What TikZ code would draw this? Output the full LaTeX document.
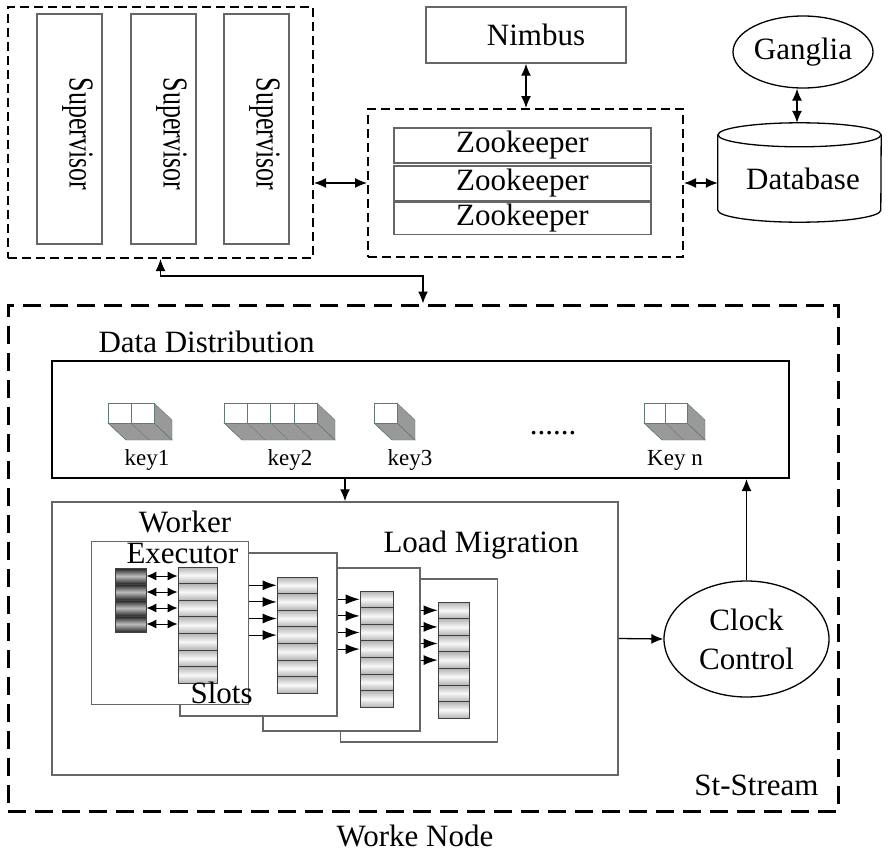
\documentclass[tikz,border=0pt]{standalone}
\usepackage{fontspec}
\setmainfont{Liberation Serif}
\usepackage{tikz}
\usetikzlibrary{arrows.meta, positioning, shapes.geometric}

\definecolor{boxgray}{gray}{0.4}
\definecolor{cubeline}{RGB}{95,125,110}
\definecolor{cubefill}{gray}{0.6}

\newcommand{\keyrow}[4]{%
  \draw[cubeline, fill=cubefill] (#2,#3+20) -- ++(#1*#4,0) -- ++(18,17) -- ++(-#1*#4,0) -- cycle;
  \draw[cubeline, fill=cubefill] (#2+#1*#4,#3) -- ++(18,17) -- ++(0,20) -- ++(-18,-17) -- cycle;
  \foreach \i in {0,...,#1} \draw[cubeline] (#2+\i*#4,#3+20) -- ++(18,17);
  \foreach \i in {1,...,#1} \draw[cubeline, fill=white] (#2+\i*#4-#4,#3) rectangle ++(#4,20);
}

\begin{document}
\begin{tikzpicture}[x=1pt, y=-1pt,
  font=\fontsize{31}{36}\selectfont,
  >={Latex[length=12pt, width=10pt]},
  link/.style={line width=1.3pt},
  slotlink/.style={line width=1pt},
  group/.style={draw, line width=2pt, dash pattern=on 9pt off 5pt, inner sep=0},
  supbox/.style={draw=boxgray, line width=1.2pt, rotate=-90, minimum width=230pt, minimum height=65pt, inner sep=0},
  zkbox/.style={draw=boxgray, line width=1.2pt, minimum width=257pt, inner sep=0},
  worker/.style={draw=boxgray, fill=white, line width=1.2pt, minimum width=157pt, minimum height=163pt},
  slotcell/.style={draw=black!75, line width=0.8pt, top color=gray!60, bottom color=gray!60, middle color=gray!5, minimum height=16.6pt, inner sep=0},
  darkcell/.style={draw=black!75, line width=0.8pt, top color=black!90, bottom color=black!85, middle color=gray!50, minimum width=31pt, minimum height=16pt, inner sep=0},
  keylabel/.style={font=\fontsize{23}{26}\selectfont, anchor=base}]

  \useasboundingbox (0,0) rectangle (889,859);

  \node[group, minimum width=305pt, minimum height=251pt] (supgroup) at (160.5,132.5) {};
  \foreach \n/\x in {1/69.5, 2/163.5, 3/256.5}
    \node[supbox] (sup\n) at (\x,129) {\raisebox{0pt}[0pt][0pt]{\hspace*{10pt}\scalebox{0.74}[1]{\fontsize{35}{36}\selectfont Supervisor}}};

  \node[group, minimum width=315pt, minimum height=148pt] (zoogroup) at (525.5,183) {};
  \node[zkbox, minimum height=35pt] (zk1) at (522.5,145.5) {Zookeeper};
  \node[zkbox, minimum height=35pt] (zk2) at (522.5,183.5) {Zookeeper};
  \node[zkbox, minimum height=32pt] (zk3) at (522.5,218.5) {Zookeeper};

  \node[draw=boxgray, line width=1.5pt, minimum width=200pt, minimum height=56pt] (nimbus) at (526,35) {\hspace*{20pt}Nimbus};
  \node[draw, ellipse, line width=1.3pt, minimum width=140pt, minimum height=72pt, inner sep=0] (ganglia) at (803,52) {Ganglia};

  \node[minimum width=163pt, minimum height=99pt, inner sep=0] (db) at (799.5,172.5) {};
  \draw[line width=1.3pt] ([yshift=-12pt]db.north west) -- ([yshift=12pt]db.south west)
    arc[start angle=180, end angle=0, x radius=81.5, y radius=12] -- ([yshift=-12pt]db.north east);
  \draw[line width=1.3pt] ([yshift=-12pt]db.north) ellipse[x radius=81.5, y radius=12];
  \node[anchor=base] (dbtext) at (803,189) {Database};

  \node[draw, line width=3pt, dash pattern=on 18pt off 9pt, minimum width=830pt, minimum height=506pt, inner sep=0] (stream) at (423,558) {};
  \node[draw, line width=2pt, minimum width=737pt, minimum height=117pt] (dd) at (420.5,419.5) {};
  \node[draw=boxgray, line width=1.5pt, minimum width=566pt, minimum height=273pt] (lm) at (335,638.5) {};
  \node[draw, ellipse, line width=1.3pt, minimum width=165pt, minimum height=116pt, inner sep=0,
    align=center, font=\fontsize{31}{39}\selectfont] (clock) at (746.5,639) {Clock\\Control};

  \node[anchor=base west] (ddlabel) at (95,352) {Data Distribution};
  \node[anchor=base west] (lmlabel) at (380,552) {Load Migration};
  \node[anchor=base east] (stlabel) at (822,795) {St-Stream};
  \node[anchor=base] (nodelabel) at (415,846) {Worke Node};

  \keyrow{2}{108}{403}{23}
  \keyrow{4}{224}{403}{23.25}
  \keyrow{1}{374}{403}{23}
  \keyrow{2}{644}{403}{21.5}
  \node[keylabel] (key1) at (147,465) {key1};
  \node[keylabel] (key2) at (290,465) {key2};
  \node[keylabel] (key3) at (410,465) {key3};
  \node[keylabel] (keyn) at (675,465) {Key n};
  \node[anchor=base] (dots) at (553,434) {......};

  \foreach \n/\x/\y in {4/419/660.5, 3/341.5/649.5, 2/258.5/634.5, 1/170/623}
    \node[worker] (w\n) at (\x,\y) {};
  \foreach \k/\x/\y/\w in {1/178/567/39, 2/277/577/40, 3/360/591/33, 4/438/602/31}
    \foreach \i in {1,...,7}
      \node[slotcell, minimum width=\w pt] (c\k-\i) at (\x+\w/2, \y+16.6*\i-8.3) {};
  \foreach \i in {1,...,4}
    \node[darkcell] (d\i) at (130.5, 560+16*\i) {};
  \foreach \i in {1,...,4}
    \draw[slotlink, {Latex[length=10pt, width=9pt]}-{Latex[length=10pt, width=9pt]}] (d\i.east) -- (d\i.east -| c1-\i.west);
  \foreach \k/\p in {2/1, 3/2, 4/3}
    \foreach \i in {1,...,4}
      \draw[slotlink, -{Latex[length=14pt, width=10pt]}] (w\p.east |- c\k-\i) -- (c\k-\i.west);

  \node[anchor=base] (workerlabel) at (185,532) {Worker};
  \node[anchor=base west] (execlabel) at (123,563) {Executor};
  \node[anchor=base west] (slotlabel) at (187,703) {Slots};

  \draw[<->, link] (supgroup.east |- zoogroup.west) -- (zoogroup.west);
  \draw[<->, link] (nimbus.south) -- (nimbus.south |- zoogroup.north);
  \draw[<->, link] ([xshift=-6pt]ganglia.south) -- ([xshift=-6pt]ganglia.south |- db.north);
  \draw[<->, link] (zoogroup.east) -- (zoogroup.east -| db.west);
  \draw[<->, link] (supgroup.south) -- ++(0,17) -| (stream.north);
  \draw[->, link] ([xshift=-75.5pt]dd.south) -- ([xshift=-75.5pt]dd.south |- lm.north);
  \draw[->, link] (lm.east) -- (clock.west);
  \draw[->, link] (clock.north) -- (clock.north |- dd.south);
\end{tikzpicture}
\end{document}
